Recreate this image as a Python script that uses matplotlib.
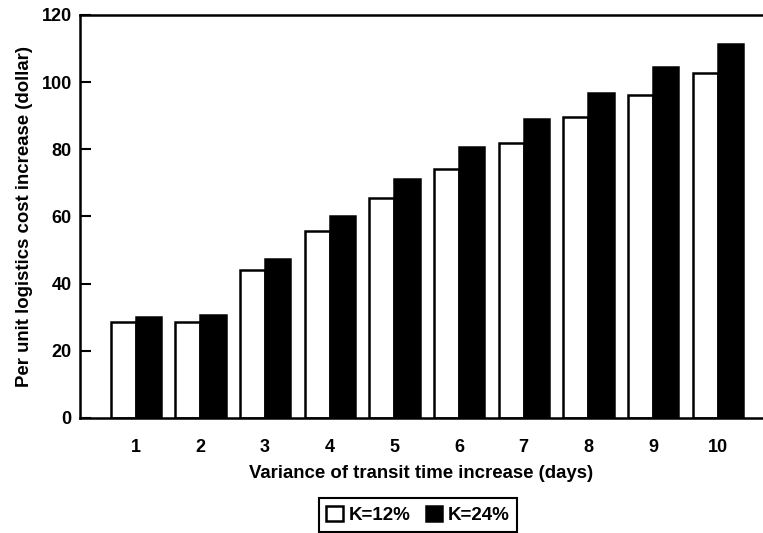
import numpy as np
import matplotlib.pyplot as plt

plt.rcParams['font.family'] = ['Liberation Sans', 'DejaVu Sans']
plt.rcParams['font.weight'] = 'bold'

days = [1, 2, 3, 4, 5, 6, 7, 8, 9, 10]
k12 = [28.7, 28.7, 44.1, 55.6, 65.4, 74.0, 82.0, 89.6, 96.1, 102.6]
k24 = [29.9, 30.6, 47.4, 60.0, 71.0, 80.7, 89.0, 96.8, 104.4, 111.4]

fig = plt.figure(figsize=(7.63, 5.33), dpi=100)
ax = fig.add_axes([0.105, 0.216, 0.895, 0.756])

x = np.array(days)
w = 0.39
ax.bar(x - w/2, k12, w, color='white', edgecolor='black', linewidth=1.8, label='K=12%')
ax.bar(x + w/2, k24, w, color='black', edgecolor='black', linewidth=1.8, label='K=24%')

ax.set_xlim(0.14, 10.7)
ax.set_ylim(0, 120)
ax.set_yticks(np.arange(0, 121, 20))
ax.set_xticks(x)
ax.tick_params(axis='y', direction='in', length=8, width=1.5, labelsize=13, pad=6)
ax.tick_params(axis='x', length=0, labelsize=13, pad=15)
for s in ['left', 'bottom', 'top']:
    ax.spines[s].set_linewidth(1.8)
ax.spines['right'].set_visible(False)

ax.set_xlabel('Variance of transit time increase (days)', fontsize=13.4, fontweight='bold', labelpad=7)
ax.set_ylabel('Per unit logistics cost increase (dollar)', fontsize=13.4, fontweight='bold', labelpad=6)

leg = fig.legend(loc='center', bbox_to_anchor=(418/763, 1 - 515/533), ncol=2,
                 handlelength=0.9, handleheight=0.9, handletextpad=0.3, columnspacing=0.8,
                 fancybox=False, edgecolor='black', framealpha=1,
                 prop={'size': 13.5, 'weight': 'bold'})
leg.get_frame().set_linewidth(1.5)

plt.savefig('out.png', dpi=100)
